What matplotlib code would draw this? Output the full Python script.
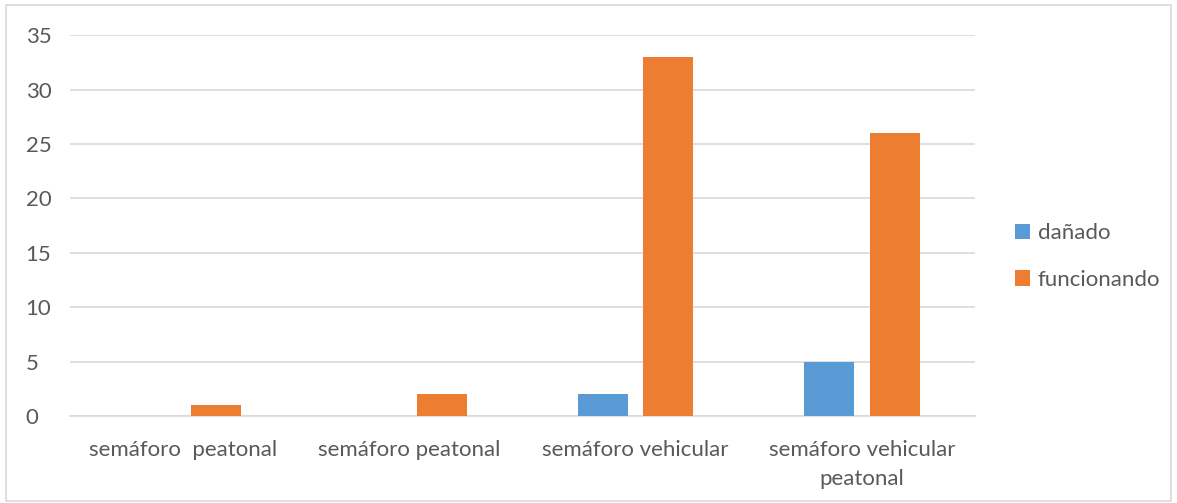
import matplotlib
matplotlib.use('Agg')
import matplotlib.pyplot as plt
from matplotlib.patches import Rectangle
import numpy as np

categories = ['semáforo  peatonal', 'semáforo peatonal', 'semáforo vehicular',
              'semáforo vehicular\npeatonal']
danado = [0, 0, 2, 5]
funcionando = [1, 2, 33, 26]
yticks = [0, 5, 10, 15, 20, 25, 30, 35]

plt.rcParams['font.family'] = ['Lato', 'DejaVu Sans']
txt = '#595959'
fs = 16

fig = plt.figure(figsize=(11.77, 5.03), dpi=100)
ax = fig.add_axes([0.0595, 0.173, 0.769, 0.757])

x = np.arange(len(categories))
w = 0.221
off = 0.144
ax.bar(x - off, danado, w, color='#5b9bd5', label='dañado', zorder=3)
ax.bar(x + off, funcionando, w, color='#ed7d31', label='funcionando', zorder=3)

ax.set_xlim(-0.5, len(categories) - 0.5)
ax.set_ylim(0, 35)
ax.set_yticks(yticks)
ax.set_xticks(x)
ax.set_xticklabels(categories, linespacing=1.6)
ax.tick_params(axis='both', length=0, labelsize=fs, colors=txt)
ax.tick_params(axis='x', pad=17)
ax.tick_params(axis='y', pad=32)
ax.grid(axis='y', color='#d9d9d9', linewidth=1.2, zorder=0)
for s in ['top', 'right', 'left']:
    ax.spines[s].set_visible(False)
ax.spines['bottom'].set_color('#d9d9d9')
ax.spines['bottom'].set_linewidth(1.2)
for lab in ax.get_yticklabels():
    lab.set_horizontalalignment('left')

leg = fig.legend(loc='center left', bbox_to_anchor=(0.845, 0.49), frameon=False,
                 fontsize=fs, handlelength=0.7, handleheight=0.7,
                 handletextpad=0.35, labelspacing=1.2)
for t in leg.get_texts():
    t.set_color(txt)

fig.patches.append(Rectangle((0.005, 0.003), 0.99, 0.987, transform=fig.transFigure,
                             fill=False, edgecolor='#d9d9d9', linewidth=1.2))

fig.savefig('out.png', dpi=100)
